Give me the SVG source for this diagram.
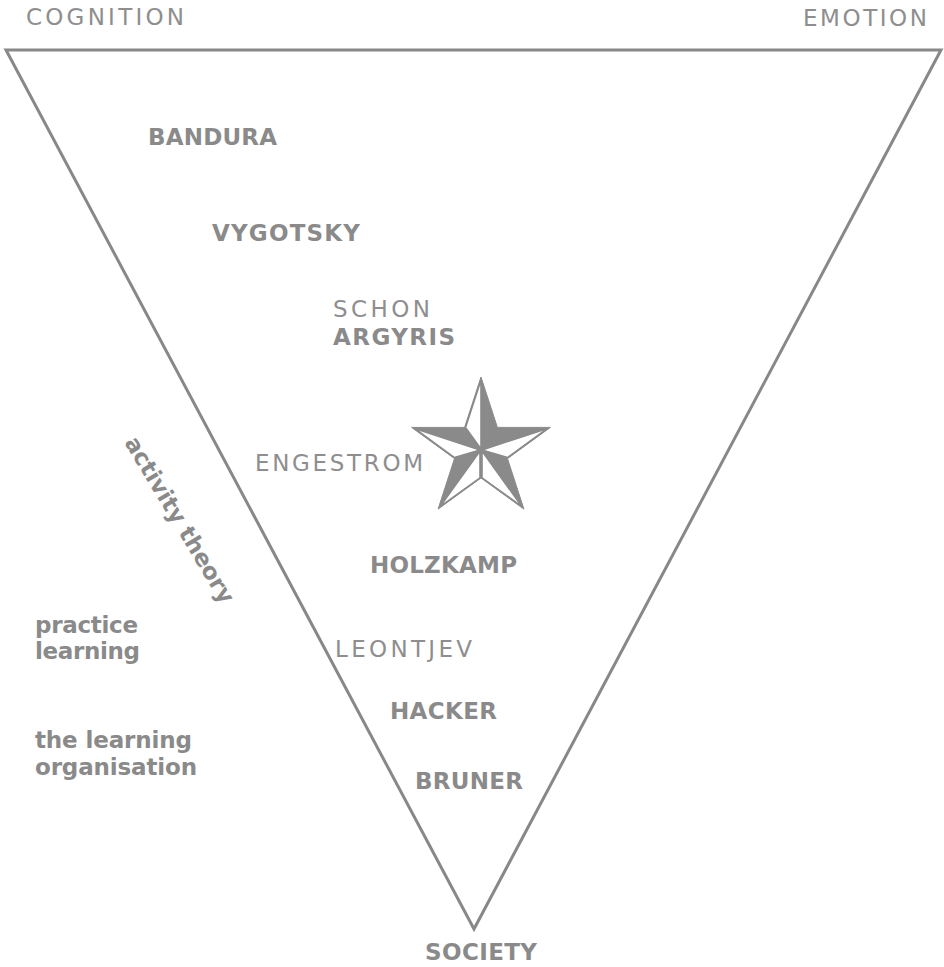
<svg xmlns="http://www.w3.org/2000/svg" width="944" height="967" viewBox="0 0 944 967">
<style>
text{font-family:"DejaVu Sans","Verdana",sans-serif;font-size:23px;fill:#8a8a8a}
.n{font-weight:normal;fill:#8e8e8e}
.b{font-weight:bold}
.edge{fill:none;stroke:#888;stroke-width:3;stroke-linejoin:miter}
.wf{fill:#fff;stroke:#8a8a8a;stroke-width:1.6;stroke-linejoin:round}
</style>
<rect width="944" height="967" fill="#fff"/>
<g id="connectors">
<polygon class="edge" points="6,50 941,50 474,929"/>
</g>
<g id="cognition"><text class="n" x="26" y="25" textLength="158" lengthAdjust="spacing">COGNITION</text></g>
<g id="emotion"><text class="n" x="803" y="26" textLength="124" lengthAdjust="spacing">EMOTION</text></g>
<g id="society"><text class="b" x="425" y="960" textLength="112" lengthAdjust="spacing">SOCIETY</text></g>
<g id="bandura"><text class="b" x="148" y="145" textLength="129" lengthAdjust="spacing">BANDURA</text></g>
<g id="vygotsky"><text class="b" x="212" y="241" textLength="148" lengthAdjust="spacing">VYGOTSKY</text></g>
<g id="schon-argyris">
<text class="n" x="333" y="317" textLength="97" lengthAdjust="spacing">SCHON</text>
<text class="b" x="333" y="345" textLength="122" lengthAdjust="spacing">ARGYRIS</text>
</g>
<g id="engestrom"><text class="n" x="255" y="471" textLength="168" lengthAdjust="spacing">ENGESTROM</text></g>
<g id="holzkamp"><text class="b" x="370" y="573" textLength="147" lengthAdjust="spacing">HOLZKAMP</text></g>
<g id="leontjev"><text class="n" x="335" y="657" textLength="137" lengthAdjust="spacing">LEONTJEV</text></g>
<g id="hacker"><text class="b" x="390" y="719" textLength="107" lengthAdjust="spacing">HACKER</text></g>
<g id="bruner"><text class="b" x="415" y="789" textLength="108" lengthAdjust="spacing">BRUNER</text></g>
<g id="activity-theory"><text class="b" text-anchor="middle" transform="translate(173,524) rotate(59)">activity theory</text></g>
<g id="practice-learning">
<text class="b" x="35" y="633" textLength="103" lengthAdjust="spacing">practice</text>
<text class="b" x="35" y="659" textLength="105" lengthAdjust="spacing">learning</text>
</g>
<g id="learning-organisation">
<text class="b" x="35" y="748" textLength="157" lengthAdjust="spacing">the learning</text>
<text class="b" x="35" y="775" textLength="162" lengthAdjust="spacing">organisation</text>
</g>
<g id="star">
<polygon fill="#8a8a8a" stroke="#8a8a8a" stroke-width="1" points="481,377 497.4,427.4 550.4,427.4 507.5,458.6 523.9,509.1 481,477.9 438.1,509.1 454.5,458.6 411.6,427.4 464.6,427.4"/>
<polygon class="wf" points="481,380 465.5,427.4 481,449"/>
<polygon class="wf" points="547.5,428.4 507.5,457.6 482,450"/>
<polygon class="wf" points="521.9,506.6 482,477.9 482,451"/>
<polygon class="wf" points="440.1,506.6 480,477.9 480,451"/>
<polygon class="wf" points="414.6,428.4 454.5,457.6 480,450"/>
</g>
</svg>
